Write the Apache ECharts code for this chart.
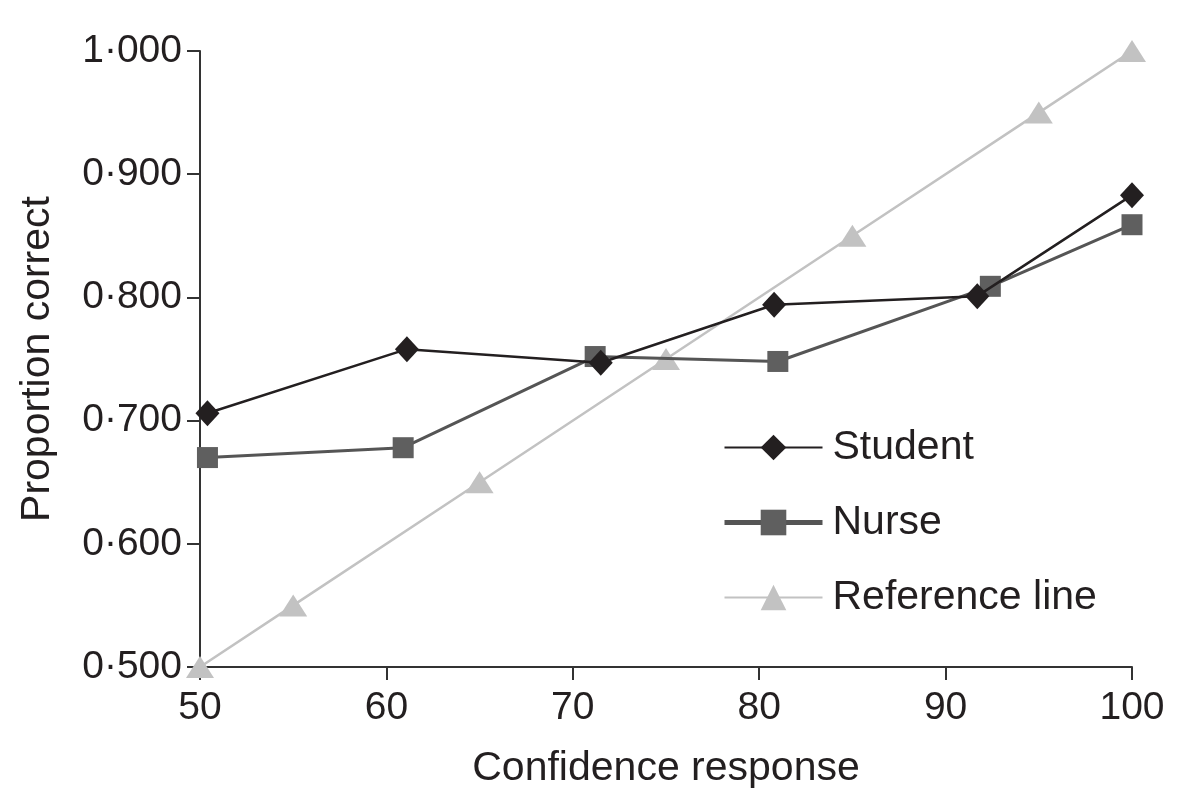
<!DOCTYPE html>
<html>
<head>
<meta charset="utf-8">
<script src="https://cdn.jsdelivr.net/npm/echarts@6/dist/echarts.min.js"></script>
<style>
html, body { margin: 0; padding: 0; background: #fff; }
#main { width: 1189px; height: 802px; }
</style>
</head>
<body>
<div id="main"></div>
<script>
var studentX = [50.4, 61.1, 71.5, 80.8, 91.7, 100];
var studentY = [0.706, 0.758, 0.747, 0.794, 0.801, 0.883];
var nurseX = [50.4, 60.9, 71.2, 81.0, 92.4, 100];
var nurseY = [0.670, 0.678, 0.752, 0.748, 0.809, 0.859];
var refX = [50, 55, 65, 75, 85, 95, 100];
var refY = [0.500, 0.550, 0.650, 0.750, 0.850, 0.950, 1.000];

function pairs(xs, ys) {
    var out = [];
    for (var i = 0; i < xs.length; i++) out.push([xs[i], ys[i]]);
    return out;
}

var FONT = 'Liberation Sans, Arial, sans-serif';
var axisColor = '#333';
var textColor = '#231f20';

window.onload = function () {
    var chart = echarts.init(document.getElementById('main'));
    var option = {
        animation: false,
        grid: { left: 200, right: 57, top: 51, bottom: 135, containLabel: false },
        legend: {
            orient: 'vertical',
            left: 722,
            top: 427,
            padding: 0,
            itemWidth: 98,
            itemHeight: 32,
            itemGap: 34,
            textStyle: { fontFamily: FONT, fontSize: 41, color: textColor, padding: [0, 0, 0, 5] },
            data: [
                { name: 'Student', lineStyle: { width: 2 } },
                { name: 'Nurse', lineStyle: { width: 5 } },
                { name: 'Reference line', lineStyle: { width: 2 } }
            ]
        },
        xAxis: {
            type: 'value',
            min: 50, max: 100, interval: 10,
            name: 'Confidence response',
            nameLocation: 'middle',
            nameGap: 81,
            nameTextStyle: { fontFamily: FONT, fontSize: 41, color: textColor },
            axisLine: { show: true, lineStyle: { color: axisColor, width: 2 } },
            axisTick: { show: true, inside: false, length: 13, lineStyle: { color: axisColor, width: 2 } },
            axisLabel: { fontFamily: FONT, fontSize: 39, color: textColor, margin: 22 },
            splitLine: { show: false }
        },
        yAxis: {
            type: 'value',
            min: 0.5, max: 1.0, interval: 0.1,
            name: 'Proportion correct',
            nameLocation: 'middle',
            nameGap: 142,
            nameTextStyle: { fontFamily: FONT, fontSize: 41, color: textColor },
            axisLine: { show: true, lineStyle: { color: axisColor, width: 2 } },
            axisTick: { show: true, inside: false, length: 13, lineStyle: { color: axisColor, width: 2 } },
            axisLabel: {
                fontFamily: FONT, fontSize: 39, color: textColor, margin: 18,
                formatter: function (v) { return v.toFixed(3).replace('.', '\u00b7'); }
            },
            splitLine: { show: false }
        },
        series: [
            {
                name: 'Reference line',
                type: 'line',
                data: pairs(refX, refY),
                symbol: 'triangle',
                symbolSize: [28, 22],
                lineStyle: { color: '#c2c2c2', width: 2.5 },
                itemStyle: { color: '#c2c2c2' },
                z: 1
            },
            {
                name: 'Nurse',
                type: 'line',
                data: pairs(nurseX, nurseY),
                symbol: 'rect',
                symbolSize: 21,
                lineStyle: { color: '#555555', width: 3 },
                itemStyle: { color: '#5f5f5f' },
                z: 2
            },
            {
                name: 'Student',
                type: 'line',
                data: pairs(studentX, studentY),
                symbol: 'diamond',
                symbolSize: [24, 26],
                lineStyle: { color: '#231f20', width: 2.5 },
                itemStyle: { color: '#231f20' },
                z: 3
            }
        ]
    };
    chart.setOption(option);
};
</script>
</body>
</html>
